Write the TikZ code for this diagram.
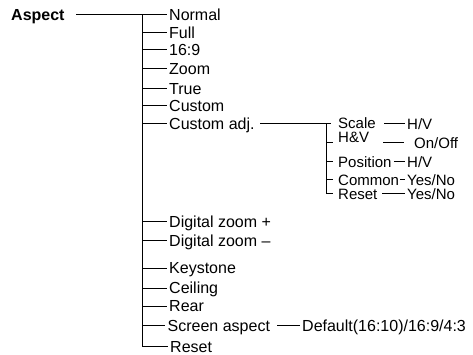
\documentclass[tikz,border=0pt]{standalone}
\usepackage{fontspec}
\setmainfont{Liberation Sans}

\begin{document}
\begin{tikzpicture}[x=1pt, y=-1pt,
    item/.style={anchor=west, inner xsep=2.5pt, inner ysep=0pt, text height=11.4pt, text depth=0pt, font=\fontsize{16}{19}\selectfont},
    subitem/.style={item, inner xsep=5pt, text height=10.7pt, font=\fontsize{15}{18}\selectfont},
    val/.style={item, text height=10.7pt, font=\fontsize{15}{18}\selectfont},
    line/.style={draw=black, line width=1pt}
  ]
    \useasboundingbox (0,0) rectangle (473,355);

    % main menu
    \node[item, font=\bfseries\fontsize{16}{19}\selectfont] (aspect) at (8.5,15) {Aspect};
    \node[item] (normal) at (166.5,15) {Normal};
    \node[item] (full) at (166.5,33) {Full};
    \node[item] (wide) at (166.5,50) {16:9};
    \node[item] (zoom) at (166.5,69) {Zoom};
    \node[item] (true) at (166.5,88.5) {True};
    \node[item] (custom) at (166.5,106) {Custom};
    \node[item] (cadj) at (166.5,123.5) {Custom adj.};
    \node[item] (dzin) at (166.5,221.5) {Digital zoom +};
    \node[item] (dzout) at (166.5,240.5) {Digital zoom –};
    \node[item] (keystone) at (166.5,268) {Keystone};
    \node[item] (ceiling) at (166.5,288) {Ceiling};
    \node[item] (rear) at (166.5,306) {Rear};
    \node[item] (scrasp) at (165,325.5) {Screen aspect};
    \node[item] (reset) at (167.5,346.5) {Reset};
    \node[item] (default) at (299.5,325.5) {Default(16:10)/16:9/4:3};

    % custom adj. submenu
    \node[subitem] (scale) at (333,123.5) {Scale};
    \node[subitem] (hv) at (333,137) {H\&V};
    \coordinate (hvtick) at (333,142.5);
    \node[subitem] (position) at (333,162) {Position};
    \node[subitem] (common) at (333,180) {Common};
    \node[subitem] (subreset) at (333,194) {Reset};
    \node[val] (hvscale) at (404.5,124) {H/V};
    \node[val] (onoff) at (411.5,143) {On/Off};
    \node[val] (hvpos) at (404.5,162) {H/V};
    \node[val] (yncommon) at (404.5,180) {Yes/No};
    \node[val] (ynreset) at (404.5,194) {Yes/No};

    \coordinate (trunk) at (142,15);
    \coordinate (subtrunk) at (326.5,123.5);

    \draw[line] ([xshift=9.2pt]aspect.east) -- (normal.west);
    \draw[line] (trunk) |- (reset.west);
    \draw[line] (trunk |- full.west) -- (full.west);
    \draw[line] (trunk |- wide.west) -- (wide.west);
    \draw[line] (trunk |- zoom.west) -- (zoom.west);
    \draw[line] (trunk |- true.west) -- (true.west);
    \draw[line] (trunk |- custom.west) -- (custom.west);
    \draw[line] (trunk |- cadj.west) -- (cadj.west);
    \draw[line] (trunk |- dzin.west) -- (dzin.west);
    \draw[line] (trunk |- dzout.west) -- (dzout.west);
    \draw[line] (trunk |- keystone.west) -- (keystone.west);
    \draw[line] (trunk |- ceiling.west) -- (ceiling.west);
    \draw[line] (trunk |- rear.west) -- (rear.west);
    \draw[line] (trunk |- scrasp.west) -- (scrasp.west);
    \draw[line] ([xshift=4.8pt]scrasp.east) -- (default.west);

    \draw[line] ([xshift=3pt]cadj.east) -- (subtrunk) -- ([xshift=-2pt]scale.west |- subtrunk);
    \draw[line] (subtrunk) |- (subreset.west);
    \draw[line] (subtrunk |- hvtick) -- (hvtick);
    \draw[line] (subtrunk |- position.west) -- (position.west);
    \draw[line] (subtrunk |- common.west) -- (common.west);

    \draw[line] ([xshift=3.5pt]scale.east |- hvscale.west) -- (hvscale.west);
    \draw[line] ([xshift=9pt]hv.east |- onoff.west) -- ([xshift=-7.5pt]onoff.west);
    \draw[line] ([xshift=-3pt]position.east) -- (hvpos.west);
    \draw[line] ([xshift=-3.8pt]common.east) -- (yncommon.west);
    \draw[line] ([xshift=-0.5pt]subreset.east) -- (ynreset.west);
  \end{tikzpicture}
\end{document}
